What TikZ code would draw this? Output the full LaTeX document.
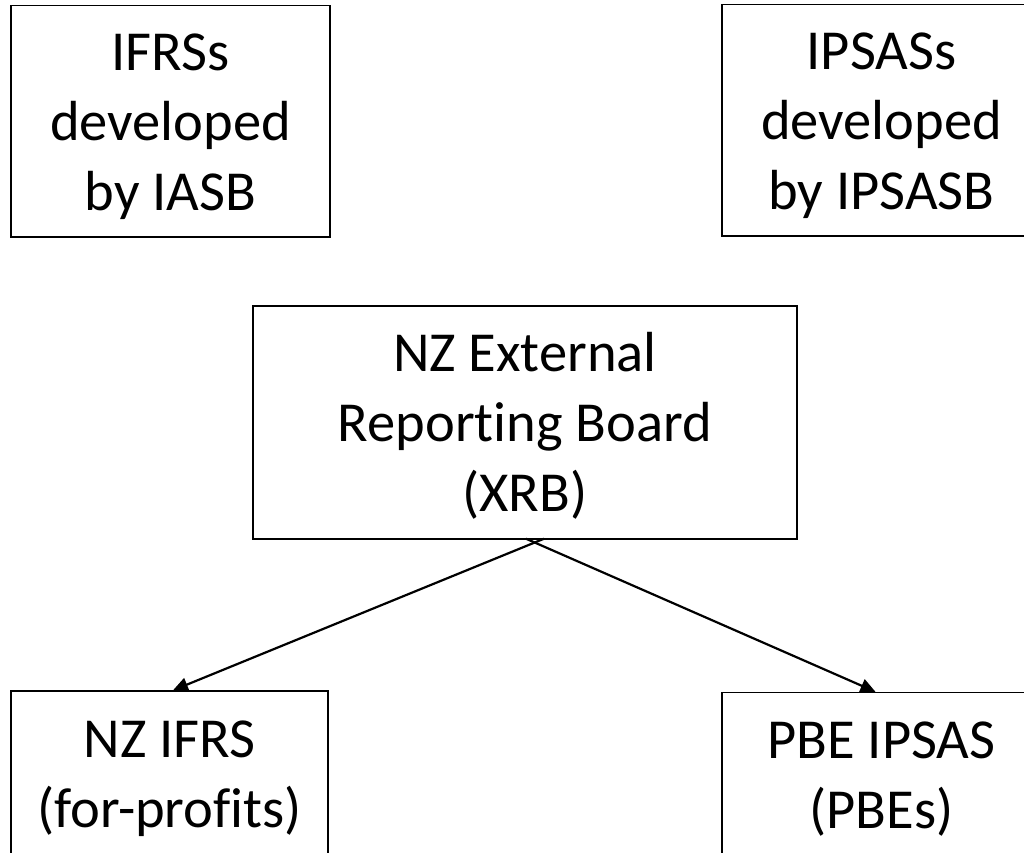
\documentclass[tikz,border=0pt]{standalone}
\usepackage{fontspec}
\setmainfont[Ligatures=NoCommon]{Carlito}
\usetikzlibrary{arrows.meta}
\begin{document}
\begin{tikzpicture}[x=1pt,y=-1pt,
  box/.style={draw=black, line width=1.4pt, inner sep=0pt, align=center,
    font=\fontsize{56.5}{70}\selectfont, text depth=0pt},
  threeline/.style={box, text height=177.5pt},
  twoline/.style={box, text height=40pt},
  arr/.style={draw=black, line width=2.2pt, -{Triangle[length=15pt,width=14pt]}}]
\useasboundingbox (0,0) rectangle (1024,852);
\clip (0,0) rectangle (1024,852);
\node[threeline, minimum width=319pt, minimum height=231.5pt] (ifrs) at (170.5,121.25) {IFRSs\\developed\\by IASB};
\node[threeline, minimum width=319pt, minimum height=231.5pt] (ipsas) at (881.5,120.25) {IPSASs\\developed\\by IPSASB};
\node[threeline, minimum width=544pt, minimum height=233pt] (xrb) at (525,422.5) {NZ External\\Reporting Board\\(XRB)};
\node[twoline, minimum width=317pt, minimum height=232pt] (nzifrs) at (169.5,807) {NZ IFRS\\(for-profits)};
\node[twoline, minimum width=319pt, minimum height=232pt] (pbe) at (881.5,808.5) {PBE IPSAS\\(PBEs)};
\coordinate (sL) at ([xshift=19pt,yshift=1pt]xrb.south);
\coordinate (sR) at ([xshift=1pt,yshift=1pt]xrb.south);
\coordinate (tL) at ([xshift=3.5pt]nzifrs.north);
\coordinate (tR) at ([xshift=-6pt]pbe.north);
\draw[arr] (sL) -- (tL);
\draw[arr] (sR) -- (tR);
\end{tikzpicture}
\end{document}
